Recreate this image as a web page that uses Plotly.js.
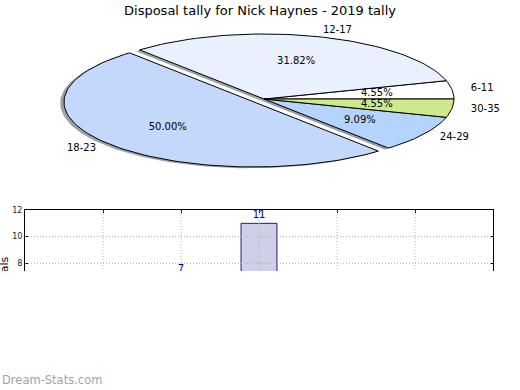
<!DOCTYPE html>
<html><head><meta charset="utf-8">
<script src="https://cdn.plot.ly/plotly-3.0.1.min.js"></script>
<style>
html,body{margin:0;padding:0;background:#fff}
#wrap{position:relative;width:520px;height:390px;overflow:hidden}
#cover{position:absolute;left:0;top:271px;width:520px;height:99px;background:#fff}
</style>
</head><body>
<div id="wrap"><div id="chart"></div><div id="cover"></div></div>
<script>
// ---- data ----
const categories = ['6-11', '12-17', '18-23', '24-29', '30-35'];
const games = [1, 7, 11, 2, 1];
const yTickVals = [6, 8, 10, 12];
const titleText = 'Disposal tally for Nick Haynes - 2019 tally';
const yLabel = 'Disposals';
const watermark = 'Dream-Stats.com';

// ---- style ----
const sliceColors = ['#ffffff', '#eaf1fe', '#c4d8fc', '#b4d4fe', '#cee98b'];
const explode = [0, 0, 0.07, 0, 0];
const FONT = 'DejaVu Sans, sans-serif';

const total = games.reduce((a, b) => a + b, 0);
const traces = [];
const shadows = [], wedges = [];
const labX = [], labY = [], labPos = [], pctX = [], pctY = [], pctT = [];
let start = 0;
function hexToRgb(h){return [parseInt(h.slice(1,3),16),parseInt(h.slice(3,5),16),parseInt(h.slice(5,7),16)];}
games.forEach((v, i) => {
  const t1 = start, t2 = start + 360 * v / total;
  start = t2;
  const mid = (t1 + t2) / 2 * Math.PI / 180;
  const ox = explode[i] * Math.cos(mid), oy = explode[i] * Math.sin(mid);
  const n = Math.max(4, Math.ceil((t2 - t1) / 2));
  const xs = [ox], ys = [oy];
  for (let k = 0; k <= n; k++) {
    const t = (t1 + (t2 - t1) * k / n) * Math.PI / 180;
    xs.push(ox + Math.cos(t)); ys.push(oy + Math.sin(t));
  }
  xs.push(ox); ys.push(oy);
  const rgb = hexToRgb(sliceColors[i]).map(c => Math.round(c * 0.3));
  shadows.push({type:'scatter', mode:'lines', x: xs.map(x => x - 0.02), y: ys.map(y => y - 0.02),
    fill:'toself', fillcolor:'rgba('+rgb.join(',')+',0.5)', line:{width:0},
    xaxis:'x2', yaxis:'y2', hoverinfo:'skip', showlegend:false});
  wedges.push({type:'scatter', mode:'lines', x: xs, y: ys, fill:'toself',
    fillcolor: sliceColors[i], line:{color:'#000', width:1},
    xaxis:'x2', yaxis:'y2', hoverinfo:'skip', showlegend:false});
  const lx = ox + 1.1 * Math.cos(mid), ly = oy + 1.1 * Math.sin(mid);
  labX.push(lx); labY.push(ly); labPos.push(lx >= 0 ? 'middle right' : 'middle left');
  pctX.push(ox + 0.6 * Math.cos(mid)); pctY.push(oy + 0.6 * Math.sin(mid));
  pctT.push((v / total * 100).toFixed(2) + '%');
});
traces.push(...shadows, ...wedges);
traces.push({type:'scatter', mode:'text', x: labX, y: labY, text: categories,
  textposition: labPos, textfont:{family:FONT, size:10, color:'#000'}, cliponaxis:false,
  xaxis:'x2', yaxis:'y2', hoverinfo:'skip', showlegend:false});
traces.push({type:'scatter', mode:'text', x: pctX, y: pctY, text: pctT,
  textposition:'middle center', textfont:{family:FONT, size:10, color:'#000'}, cliponaxis:false,
  xaxis:'x2', yaxis:'y2', hoverinfo:'skip', showlegend:false});

// bar chart
traces.push({type:'bar', x: categories, y: games, text: games.map(String), width: 0.46,
  textposition:'outside', textfont:{family:FONT, size:10, color:'#00008b'},
  marker:{color:'#cdd0e7', line:{color:'#1c1c80', width:1}},
  xaxis:'x', yaxis:'y', hoverinfo:'skip', showlegend:false});

const gridLine = {color:'#b0b0b0', width:1, dash:'1px,2px'};
const shapes = [];
categories.forEach(c => shapes.push({type:'line', xref:'x', yref:'y domain', x0:c, x1:c, y0:0, y1:1, line:gridLine, layer:'above'}));
[8, 10].forEach(v => shapes.push({type:'line', xref:'x domain', yref:'y', x0:0, x1:1, y0:v, y1:v, line:gridLine, layer:'above'}));

const axBase = {showline:true, mirror:'ticks', linecolor:'#000', linewidth:1, ticks:'inside',
  ticklen:3, tickcolor:'#000', zeroline:false, showgrid:false, tickfont:{family:FONT, size:8, color:'#222'}};

const layout = {
  width:520, height:390, autosize:false,
  margin:{l:0, r:0, t:0, b:0},
  paper_bgcolor:'#fff', plot_bgcolor:'#fff',
  font:{family:FONT},
  title:{text:titleText, x:0.5, xanchor:'center', y:1 - 10/390, yanchor:'middle',
    font:{family:FONT, size:13, color:'#000'}},
  xaxis: Object.assign({}, axBase, {domain:[25/520, 493/520], range:[-1, 5], type:'category', anchor:'y'}),
  yaxis: Object.assign({}, axBase, {domain:[1 - 290/390, 1 - 210/390], range:[6, 12], tickvals:yTickVals, anchor:'x'}),
  xaxis2: {domain:[36/520, 492/520], range:[-1.2, 1.2], visible:false, anchor:'y2', fixedrange:true},
  yaxis2: {domain:[1 - 177/390, 1 - 21/390], range:[-1.2, 1.2], visible:false, anchor:'x2', fixedrange:true},
  shapes: shapes,
  annotations: [
    {text:yLabel, xref:'paper', yref:'paper', x:4/520, y:1 - 283/390, xanchor:'center', yanchor:'middle',
      textangle:-90, showarrow:false, font:{family:FONT, size:11, color:'#000'}},
    {text:watermark, xref:'paper', yref:'paper', x:0, y:1 - 380/390, xanchor:'left', yanchor:'middle',
      showarrow:false, font:{family:FONT, size:11.5, color:'#a3a3a3'}}
  ]
};

Plotly.newPlot('chart', traces, layout, {staticPlot:true, displayModeBar:false});
</script>
</body></html>
